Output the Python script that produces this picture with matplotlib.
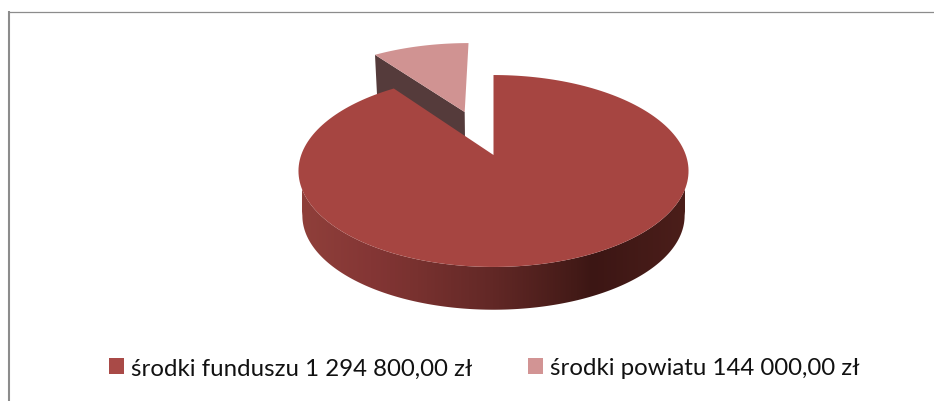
import matplotlib
matplotlib.use("Agg")
import matplotlib.pyplot as plt
from matplotlib.patches import Patch, Polygon
from matplotlib.colors import LinearSegmentedColormap
import numpy as np

labels = ["środki funduszu 1 294 800,00 zł", "środki powiatu 144 000,00 zł"]
values = [1294800.00, 144000.00]
top_colors = ["#a64541", "#d09392"]
legend_colors = ["#a94a47", "#d29494"]
wall_color = "#553b3b"
frame_color = "#8c8c8c"

# front wall shading, left to right
wall_stops = [(0.0, "#8f3f3a"), (0.18, "#843635"), (0.28, "#7a3230"), (0.5, "#622826"),
              (0.72, "#431a17"), (0.76, "#3c1614"), (1.0, "#4b1e1a")]
wall_cmap = LinearSegmentedColormap.from_list("wall", wall_stops)

# perspective of the tilted disc, in pixels
cx, cy = 493.5, 156
radius_x, radius_y = 192.3, 93.3
persp = 1 / 6
bottom_scale = 0.98
bottom_cy = 201
explode = 0.525


def project(u, v, center_y=cy, scale=1.0):
    w = 1 - persp * v
    return cx + scale * radius_x * u / w, center_y + scale * radius_y * v / w


def sector(start, end, off_u=0.0, off_v=0.0, n=200):
    # angles run clockwise from the top of the disc
    t = np.radians(np.linspace(start, end, n))
    u = np.r_[off_u, off_u + np.sin(t)]
    v = np.r_[off_v, off_v - np.cos(t)]
    return u, v


fig = plt.figure(figsize=(9.34, 4.02), dpi=100)
ax = fig.add_axes([0, 0, 1, 1])
ax.axis("off")

sweep = 360 * np.array(values) / sum(values)
main_end = sweep[0]
small_mid = main_end + sweep[1] / 2

# small slice, pulled out along its middle
off_u = explode * np.sin(np.radians(small_mid))
off_v = -explode * np.cos(np.radians(small_mid))
end_u = off_u + np.sin(np.radians(main_end))
end_v = off_v - np.cos(np.radians(main_end))
x1, y1 = project(np.array([off_u, end_u]), np.array([off_v, end_v]))
x2, y2 = project(np.array([end_u, off_u]), np.array([end_v, off_v]), bottom_cy, bottom_scale)
ax.fill(np.r_[x1, x2], np.r_[y1, y2], color=wall_color, lw=0, zorder=1)
u, v = sector(main_end, 360, off_u, off_v, 40)
ax.fill(*project(u, v), color=top_colors[1], lw=0, zorder=2)

# outer wall of the big slice, only the front shows
t = np.radians(np.linspace(99.6, 260.4, 200))
tx, ty = project(np.sin(t), -np.cos(t))
bx, by = project(np.sin(t), -np.cos(t), bottom_cy, bottom_scale)
wall = Polygon(np.c_[np.r_[tx, bx[::-1]], np.r_[ty, by[::-1]]], closed=True, fc="none", ec="none")
ax.add_patch(wall)
gradient = np.linspace(0, 1, 400).reshape(1, -1)
img = ax.imshow(gradient, cmap=wall_cmap, extent=(tx.min() + 4, tx.max() - 4, 330, 150), aspect="auto", zorder=3)
img.set_clip_path(wall)

# big slice on top
u, v = sector(0, main_end)
ax.fill(*project(u, v), color=top_colors[0], lw=0, zorder=4)

# frame, cut off by the crop on the right and at the bottom
ax.plot([9, 9], [402, 12], color=frame_color, lw=1.5, zorder=5, solid_capstyle="butt")
ax.plot([8, 934], [12.5, 12.5], color=frame_color, lw=0.9, zorder=5, solid_capstyle="butt")

ax.set_xlim(0, 934)
ax.set_ylim(402, 0)

handles = [Patch(facecolor=c, edgecolor="none", label=l) for c, l in zip(legend_colors, labels)]
ax.legend(handles=handles, ncols=2, loc="center", bbox_to_anchor=(484 / 934, 1 - 369 / 402),
          frameon=False, prop={"family": "Lato", "size": 17.3}, labelcolor="#111111",
          handlelength=0.63, handleheight=0.63, handletextpad=0.29, columnspacing=2.32, borderpad=0, borderaxespad=0)

fig.savefig("out.png", dpi=100)
plt.close()
